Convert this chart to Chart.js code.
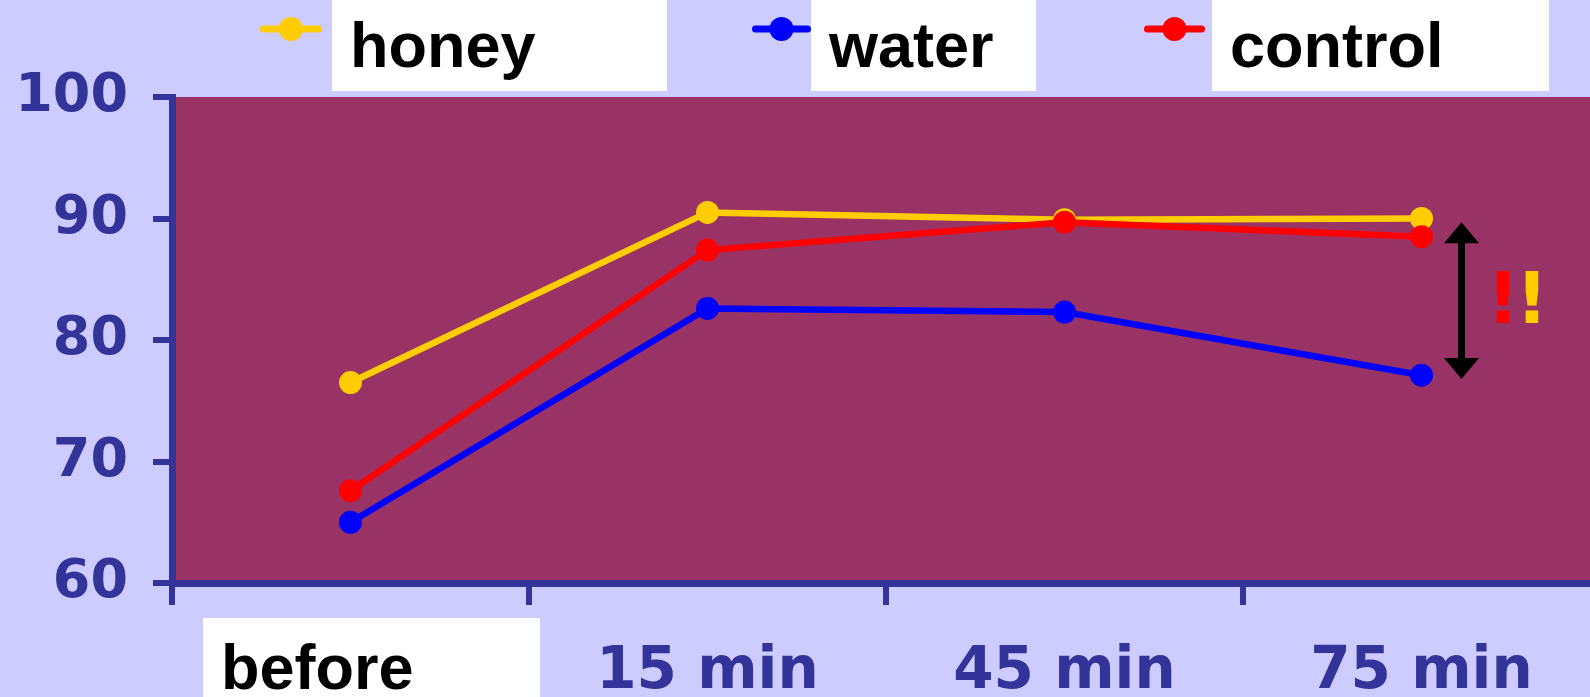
<!DOCTYPE html>
<html>
<head>
<meta charset="utf-8">
<script src="https://cdn.jsdelivr.net/npm/chart.js@4"></script>
<style>
  html, body { margin: 0; padding: 0; overflow: hidden; background: #CCCCFF; width: 1590px; height: 697px; }
  #wrap { width: 1605px; height: 697px; }
</style>
</head>
<body>
<div id="wrap"><canvas id="chart" width="1605" height="697"></canvas></div>
<script>
// Time points and measured values per group
const timepoints = ['before', '15 min', '45 min', '75 min'];
const honey   = [76.5, 90.5, 89.9, 90.0];
const water   = [65.0, 82.6, 82.3, 77.1];
const control = [67.6, 87.4, 89.7, 88.5];
const yTicks  = [60, 70, 80, 90, 100];
// Span of the difference marker at the last time point
const gapSpan = [89.7, 76.8];

const AXIS = '#333399';
const PLOT_BG = '#993366';
const PAGE_BG = '#CCCCFF';
const PLOT_RIGHT = 1600; // plot runs just past the right edge of the page

// Legend entries: marker line extent and white label box (x ranges)
const legendLayout = [
  { line: [260, 322], box: [332, 667] },
  { line: [752, 811], box: [811, 1036] },
  { line: [1144, 1205], box: [1212, 1549] }
];

// stretch the plot area and x axis out to PLOT_RIGHT
const plotFrame = {
  id: 'plotFrame',
  afterLayout(chart) {
    const xs = chart.scales.x;
    const a = chart.chartArea;
    xs.right = PLOT_RIGHT;
    xs.width = PLOT_RIGHT - xs.left;
    a.right = PLOT_RIGHT;
    a.width = PLOT_RIGHT - a.left;
    xs.configure();
  }
};

const backdrop = {
  id: 'backdrop',
  beforeDraw(chart) {
    const { ctx, chartArea: a, width, height } = chart;
    ctx.save();
    ctx.fillStyle = PAGE_BG;
    ctx.fillRect(0, 0, width, height);
    ctx.fillStyle = PLOT_BG;
    ctx.fillRect(a.left, a.top, a.right - a.left, a.bottom - a.top);
    ctx.restore();
  }
};

const overlay = {
  id: 'overlay',
  afterDraw(chart) {
    const { ctx } = chart;
    const xs = chart.scales.x, ys = chart.scales.y;
    ctx.save();

    // legend: marker line + dot, then white box with the series name
    chart.data.datasets.forEach((ds, i) => {
      const L = legendLayout[i];
      ctx.strokeStyle = ds.borderColor;
      ctx.lineWidth = 7;
      ctx.lineCap = 'round';
      ctx.beginPath();
      ctx.moveTo(L.line[0] + 3.5, 29);
      ctx.lineTo(L.line[1] - 3.5, 29);
      ctx.stroke();
      ctx.fillStyle = ds.borderColor;
      ctx.beginPath();
      ctx.arc((L.line[0] + L.line[1]) / 2, 29, 12, 0, Math.PI * 2);
      ctx.fill();
    });
    chart.data.datasets.forEach((ds, i) => {
      const L = legendLayout[i];
      ctx.fillStyle = '#FFFFFF';
      ctx.fillRect(L.box[0], 0, L.box[1] - L.box[0], 91);
      ctx.fillStyle = '#000000';
      ctx.font = 'bold 63px "Liberation Sans", Arial, sans-serif';
      ctx.textAlign = 'left';
      ctx.textBaseline = 'alphabetic';
      ctx.fillText(ds.label, L.box[0] + 18, 67);
    });

    // first category label in its own white box
    ctx.fillStyle = '#FFFFFF';
    ctx.fillRect(203, 618, 337, 79);
    ctx.fillStyle = '#000000';
    ctx.font = 'bold 63px "Liberation Sans", Arial, sans-serif';
    ctx.fillText(timepoints[0], 221, 689);

    // double-headed arrow between the groups at the last time point
    const ax = xs.getPixelForValue(timepoints.length - 1 + 0.112);
    const yTop = ys.getPixelForValue(gapSpan[0]);
    const yBot = ys.getPixelForValue(gapSpan[1]);
    const headH = 21, headW = 35;
    ctx.fillStyle = '#000000';
    ctx.fillRect(ax - 3.5, yTop + headH - 1, 7, (yBot - yTop) - 2 * headH + 2);
    ctx.beginPath();
    ctx.moveTo(ax, yTop);
    ctx.lineTo(ax + headW / 2, yTop + headH);
    ctx.lineTo(ax - headW / 2, yTop + headH);
    ctx.closePath();
    ctx.fill();
    ctx.beginPath();
    ctx.moveTo(ax, yBot);
    ctx.lineTo(ax + headW / 2, yBot - headH);
    ctx.lineTo(ax - headW / 2, yBot - headH);
    ctx.closePath();
    ctx.fill();

    // exclamation marks beside the arrow
    const midY = (yTop + yBot) / 2;
    ctx.font = 'bold 71px "DejaVu Sans", Verdana, sans-serif';
    ctx.textAlign = 'center';
    ctx.textBaseline = 'alphabetic';
    ctx.fillStyle = '#FF0000';
    ctx.fillText('!', ax + 41.5, midY + 22.5);
    ctx.fillStyle = '#FFCC00';
    ctx.fillText('!', ax + 70.5, midY + 22.5);

    ctx.restore();
  }
};

function series(label, data, color, order) {
  return {
    label, data, order,
    borderColor: color,
    backgroundColor: color,
    pointBackgroundColor: color,
    pointBorderColor: color,
    borderWidth: 6.5,
    pointRadius: 11.5,
    pointBorderWidth: 0,
    pointHoverRadius: 11.5,
    tension: 0,
    clip: false
  };
}

new Chart(document.getElementById('chart'), {
  type: 'line',
  data: {
    labels: timepoints,
    datasets: [
      series('honey', honey, '#FFCC00', 2),
      series('water', water, '#0000FF', 1),
      series('control', control, '#FF0000', 0)
    ]
  },
  options: {
    responsive: false,
    animation: false,
    devicePixelRatio: 1,
    layout: { padding: { top: 97, left: 0, right: 0, bottom: 0 } },
    plugins: { legend: { display: false }, tooltip: { enabled: false }, title: { display: false } },
    scales: {
      x: {
        type: 'category',
        offset: true,
        grid: { offset: true, drawOnChartArea: false, drawTicks: true, tickLength: 22, tickWidth: 6, tickColor: AXIS, lineWidth: 6, color: AXIS },
        border: { display: true, color: AXIS, width: 7 },
        ticks: {
          autoSkip: false, maxRotation: 0, minRotation: 0,
          padding: 33,
          color: AXIS,
          font: { family: '"DejaVu Sans", Verdana, sans-serif', size: 58, weight: 'bold' },
          callback: (v, i) => (i === 0 ? '' : timepoints[i])
        },
        afterFit: (s) => { s.height = 114; }
      },
      y: {
        min: yTicks[0],
        max: yTicks[yTicks.length - 1],
        grid: { drawOnChartArea: false, drawTicks: true, tickLength: 19, tickWidth: 6, tickColor: AXIS, lineWidth: 6, color: AXIS },
        border: { display: true, color: AXIS, width: 7 },
        ticks: {
          stepSize: yTicks[1] - yTicks[0],
          padding: 25,
          color: AXIS,
          font: { family: '"DejaVu Sans", Verdana, sans-serif', size: 54, weight: 'bold' }
        },
        afterFit: (s) => { s.width = 172; }
      }
    }
  },
  plugins: [plotFrame, backdrop, overlay]
});
</script>
</body>
</html>
